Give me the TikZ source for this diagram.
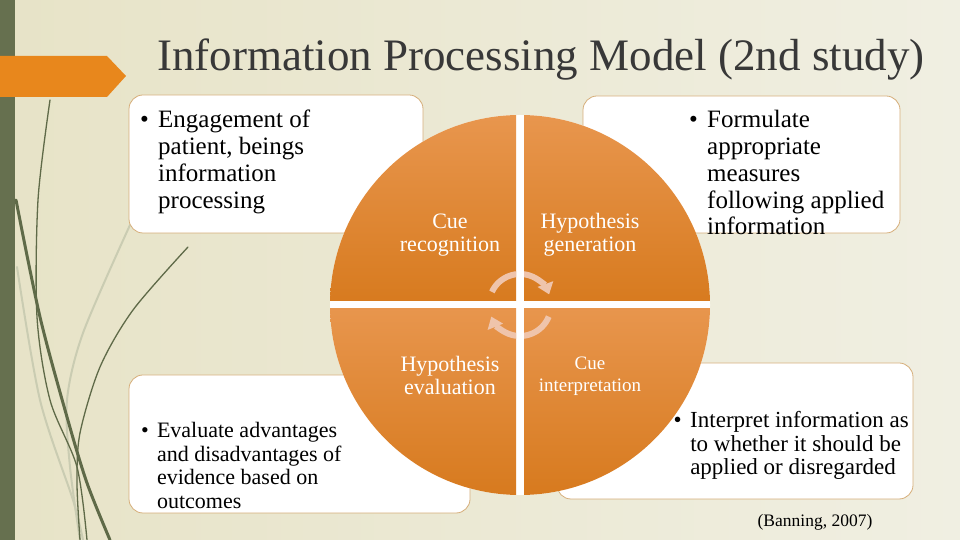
\documentclass[tikz,border=0pt]{standalone}
\usepackage{fontspec}
\setmainfont{Liberation Serif}
\usepackage{tikz}
\usetikzlibrary{arrows.meta}

\definecolor{bgleft}{HTML}{E7E3C7}
\definecolor{bgright}{HTML}{F0EFE2}
\definecolor{barGreen}{HTML}{66704F}
\definecolor{grassDark}{HTML}{5F6A48}
\definecolor{grassLight}{HTML}{CACCB2}
\definecolor{tagOrange}{HTML}{E8871C}
\definecolor{quadTop}{HTML}{E8964E}
\definecolor{quadBottom}{HTML}{D77A1E}
\definecolor{cyclePeach}{HTML}{EFC4AB}
\definecolor{boxLine}{HTML}{D6AE7A}
\definecolor{titleGray}{HTML}{383838}

\tikzset{
	txtbox/.style={draw=boxLine, fill=white, line width=0.8pt, rounded corners=14pt},
	quadtext/.style={text=white, align=center, inner sep=0pt},
	bullettext/.style={anchor=base west, inner sep=0pt},
	cyclearrow/.style={draw=cyclePeach, line width=6pt, -{Triangle[length=11pt,width=16pt]}},
	grass/.style={draw=grassDark, line width=1.3pt, line cap=round},
	paleGrass/.style={draw=grassLight, line width=2pt, line cap=round},
}

\newcommand{\bulletlines}[1]{\begin{tabular}[t]{@{}l@{\hspace{0.37em}}l@{}}\textbullet & #1\end{tabular}}

\begin{document}
\begin{tikzpicture}[x=1pt, y=1pt]
		
		% Page and background
		\useasboundingbox (0,0) rectangle (960,540);
		\shade[left color=bgleft, right color=bgright] (0,0) rectangle (960,540);
		
		% Left bar and grass stems
		\fill[barGreen] (0,0) rectangle (15,540);
		\draw[paleGrass] plot[smooth] coordinates {(130,315) (83,207) (67,140) (70,73) (80,0)};
		\draw[paleGrass] plot[smooth] coordinates {(17,273) (40,140) (73,40) (83,0)};
		\draw[grass] plot[smooth] coordinates {(50,440) (38,340) (37,223) (50,140) (77,73) (87,0)};
		\draw[grass, line width=3pt] plot[smooth] coordinates {(16,340) (40,223) (67,123) (87,57) (110,0)};
		\draw[grass] plot[smooth] coordinates {(188,293) (133,230) (100,173) (80,107) (77,57) (80,0)};
		
		% Orange tag behind the title
		\fill[tagOrange] (0,484) -- (107,484) -- (126,464) -- (107,443) -- (0,443) -- cycle;
		
		% Title
		\node[anchor=base west, inner sep=0pt, text=titleGray, font=\fontsize{45}{50}\selectfont] (title) at (157,469) {Information Processing Model (2nd study)};
		
		% Text boxes (behind the circle)
		\draw[txtbox] (129,445) rectangle (423,307);   % top left
		\draw[txtbox] (583,444) rectangle (900,307);   % top right
		\draw[txtbox] (129,165) rectangle (470,27);    % bottom left
		\draw[txtbox] (557,177) rectangle (913,41);    % bottom right
		
		\node[bullettext, font=\fontsize{25}{26.7}\selectfont] (engage) at (140,412)
			{\bulletlines{Engagement of\\ & patient, beings\\ & information\\ & processing}};
		\node[bullettext, font=\fontsize{25}{26.7}\selectfont] (formulate) at (689,412)
			{\bulletlines{Formulate\\ & appropriate\\ & measures\\ & following applied\\ & information}};
		\node[bullettext, font=\fontsize{22}{23.5}\selectfont] (evaluate) at (141,102)
			{\bulletlines{Evaluate advantages\\ & and disadvantages of\\ & evidence based on\\ & outcomes}};
		\node[bullettext, font=\fontsize{23}{23.5}\selectfont] (interpret) at (673.5,112)
			{\bulletlines{Interpret information as\\ & to whether it should be\\ & applied or disregarded}};
		
		% The circle of four quadrants
		\coordinate (C) at (520,235);   % centre of the cycle
		\fill[white] (C) circle[radius=190pt];
		\begin{scope}
			\clip (C) circle[radius=190pt];
			\shade[top color=quadTop, bottom color=quadBottom] (C) ++(-190,4) rectangle ++(186,186);
			\shade[top color=quadTop, bottom color=quadBottom] (C) ++(4,4) rectangle ++(186,186);
			\shade[top color=quadTop, bottom color=quadBottom] (C) ++(-190,-190) rectangle ++(186,186);
			\shade[top color=quadTop, bottom color=quadBottom] (C) ++(4,-190) rectangle ++(186,186);
		\end{scope}
		
		% Cycle arrows, cut by the white gaps
		\begin{scope}
			\clip (C) ++(-190,4) rectangle ++(186,186)
				(C) ++(4,4) rectangle ++(186,186)
				(C) ++(-190,-190) rectangle ++(186,186)
				(C) ++(4,-190) rectangle ++(186,186);
			\draw[cyclearrow] (C) ++(155:31pt) arc[start angle=155, end angle=20, radius=31pt];
			\draw[cyclearrow] (C) ++(-22:31pt) arc[start angle=-22, end angle=-158, radius=31pt];
		\end{scope}
		
		% Quadrant labels
		\node[quadtext, font=\fontsize{22}{23}\selectfont] (recog) at (450,305) {Cue\\recognition};
		\node[quadtext, font=\fontsize{22}{23}\selectfont] (generate) at (590,305) {Hypothesis\\generation};
		\node[quadtext, font=\fontsize{22}{23}\selectfont] (evalq) at (450,165) {Hypothesis\\evaluation};
		\node[quadtext, font=\fontsize{19}{22}\selectfont] (interq) at (590,164) {Cue\\interpretation};
		
		% Source
		\node[anchor=base, inner sep=0pt, font=\fontsize{17.5}{20}\selectfont] (source) at (815,13) {(Banning, 2007)};
		
	\end{tikzpicture}
\end{document}
